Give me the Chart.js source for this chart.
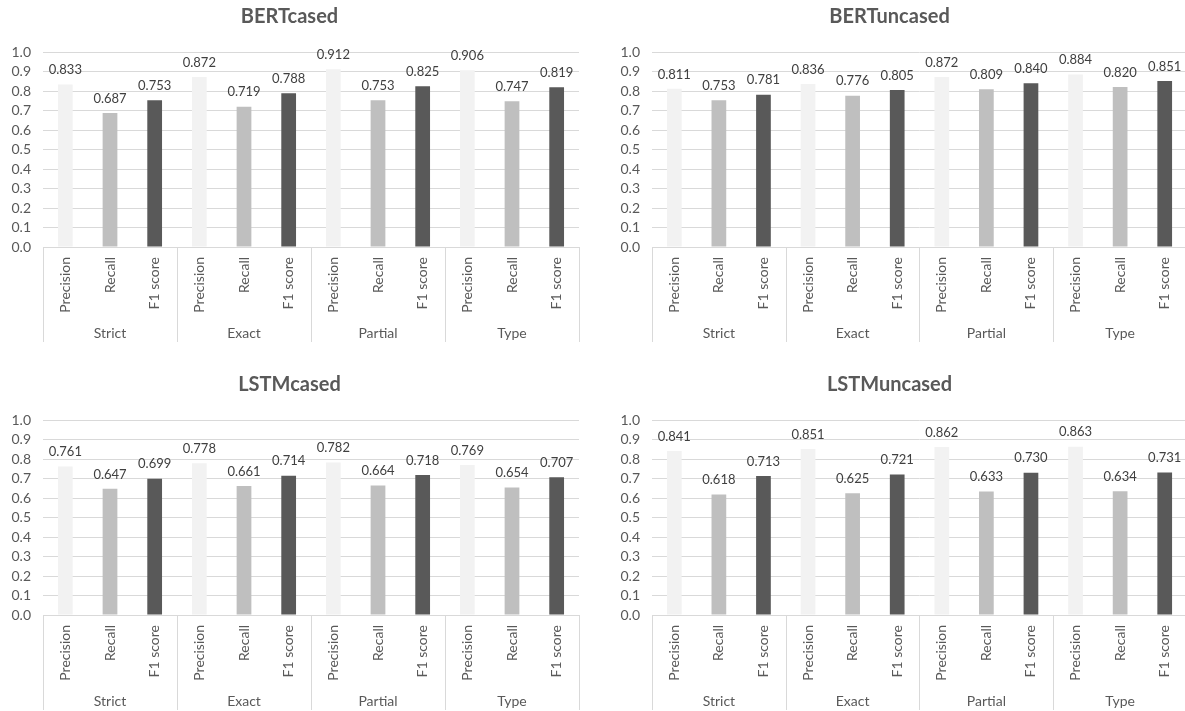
<!DOCTYPE html>
<html>
<head>
<meta charset="utf-8">
<script src="https://cdn.jsdelivr.net/npm/chart.js@4/dist/chart.umd.min.js"></script>
<style>
  html, body { margin: 0; padding: 0; background: #ffffff; overflow: hidden; width: 1185px; height: 711px; }
  .panel { position: absolute; }
</style>
</head>
<body>
<div class="panel" style="left:0px;top:0px;"><canvas id="bertCased" width="592" height="356"></canvas></div>
<div class="panel" style="left:592px;top:0px;"><canvas id="bertUncased" width="600" height="356"></canvas></div>
<div class="panel" style="left:0px;top:368px;"><canvas id="lstmCased" width="592" height="356"></canvas></div>
<div class="panel" style="left:592px;top:368px;"><canvas id="lstmUncased" width="600" height="356"></canvas></div>
<script>
// Evaluation schemes and the metrics reported for each
const schemes = ['Strict', 'Exact', 'Partial', 'Type'];
const metrics = ['Precision', 'Recall', 'F1 score'];

// Scores per model, ordered scheme by scheme: Precision, Recall, F1 score
const bertCased   = [0.833, 0.687, 0.753, 0.872, 0.719, 0.788, 0.912, 0.753, 0.825, 0.906, 0.747, 0.819];
const bertUncased = [0.811, 0.753, 0.781, 0.836, 0.776, 0.805, 0.872, 0.809, 0.840, 0.884, 0.820, 0.851];
const lstmCased   = [0.761, 0.647, 0.699, 0.778, 0.661, 0.714, 0.782, 0.664, 0.718, 0.769, 0.654, 0.707];
const lstmUncased = [0.841, 0.618, 0.713, 0.851, 0.625, 0.721, 0.862, 0.633, 0.730, 0.863, 0.634, 0.731];

// Value axis ticks
const yTicks = [0.0, 0.1, 0.2, 0.3, 0.4, 0.5, 0.6, 0.7, 0.8, 0.9, 1.0];

const metricColors = ['#f2f2f2', '#bfbfbf', '#595959'];
const FONT = 'Lato, "Open Sans", sans-serif';
const GRID = '#d9d9d9';

// Value printed above every bar
const valueLabels = {
  id: 'valueLabels',
  afterDatasetsDraw(chart) {
    const ctx = chart.ctx;
    const ds = chart.data.datasets[0];
    const meta = chart.getDatasetMeta(0);
    ctx.save();
    ctx.font = '13px ' + FONT;
    ctx.fillStyle = '#404040';
    ctx.textAlign = 'center';
    ctx.textBaseline = 'bottom';
    meta.data.forEach((bar, i) => {
      ctx.fillText(ds.data[i].toFixed(3), bar.x, bar.y - 8);
    });
    ctx.restore();
  }
};

// Vertical dividers between the scheme groups, below the plot
const groupDividers = {
  id: 'groupDividers',
  afterDraw(chart) {
    const x = chart.scales.x;
    const x2 = chart.scales.x2;
    const half = (x.getPixelForValue(1) - x.getPixelForValue(0)) / 2;
    const ctx = chart.ctx;
    ctx.save();
    ctx.strokeStyle = GRID;
    ctx.lineWidth = 1;
    for (let g = 0; g <= schemes.length; g++) {
      const px = g < schemes.length
        ? x.getPixelForValue(g * metrics.length) - half
        : x.getPixelForValue(g * metrics.length - 1) + half;
      const sx = Math.round(px) + 0.5;
      ctx.beginPath();
      ctx.moveTo(sx, chart.chartArea.bottom);
      ctx.lineTo(sx, x2.bottom);
      ctx.stroke();
    }
    ctx.restore();
  }
};

function buildChart(canvasId, title, values, yAxisWidth, padRight) {
  const labels = [];
  schemes.forEach(() => metrics.forEach(m => labels.push(m)));
  const colors = values.map((v, i) => metricColors[i % metrics.length]);
  return new Chart(document.getElementById(canvasId), {
    type: 'bar',
    data: {
      labels: labels,
      datasets: [{
        data: values,
        backgroundColor: colors,
        borderWidth: 0,
        barPercentage: 0.33,
        categoryPercentage: 1.0
      }]
    },
    options: {
      responsive: false,
      animation: false,
      events: [],
      layout: { padding: { top: 0, right: padRight, bottom: 14, left: 0 } },
      plugins: {
        legend: { display: false },
        tooltip: { enabled: false },
        title: {
          display: true,
          text: title,
          color: '#595959',
          font: { family: FONT, size: 20, weight: 'bold' },
          padding: { top: 5, bottom: 23 }
        }
      },
      scales: {
        y: {
          min: 0,
          max: 1,
          afterBuildTicks(scale) { scale.ticks = yTicks.map(v => ({ value: v })); },
          afterFit(scale) { scale.width = yAxisWidth; },
          grid: { color: GRID, drawTicks: false, lineWidth: 1 },
          border: { display: false },
          ticks: {
            autoSkip: false,
            padding: 12,
            color: '#595959',
            font: { family: FONT, size: 14 },
            callback: v => Number(v).toFixed(1)
          }
        },
        x: {
          type: 'category',
          position: 'bottom',
          weight: 0,
          afterFit(scale) { scale.height = 65; },
          grid: { display: false, drawTicks: false },
          border: { display: false },
          ticks: {
            autoSkip: false,
            minRotation: 90,
            maxRotation: 90,
            padding: 10,
            color: '#595959',
            font: { family: FONT, size: 14 }
          }
        },
        x2: {
          type: 'category',
          position: 'bottom',
          weight: 1,
          labels: schemes,
          offset: true,
          afterFit(scale) { scale.height = 30; },
          grid: { display: false, drawTicks: false },
          border: { display: false },
          ticks: {
            padding: 13,
            color: '#595959',
            font: { family: FONT, size: 14 }
          }
        }
      }
    },
    plugins: [valueLabels, groupDividers]
  });
}

buildChart('bertCased', 'BERTcased', bertCased, 43, 13);
buildChart('bertUncased', 'BERTuncased', bertUncased, 60, 5);
buildChart('lstmCased', 'LSTMcased', lstmCased, 43, 13);
buildChart('lstmUncased', 'LSTMuncased', lstmUncased, 60, 5);
</script>
</body>
</html>
